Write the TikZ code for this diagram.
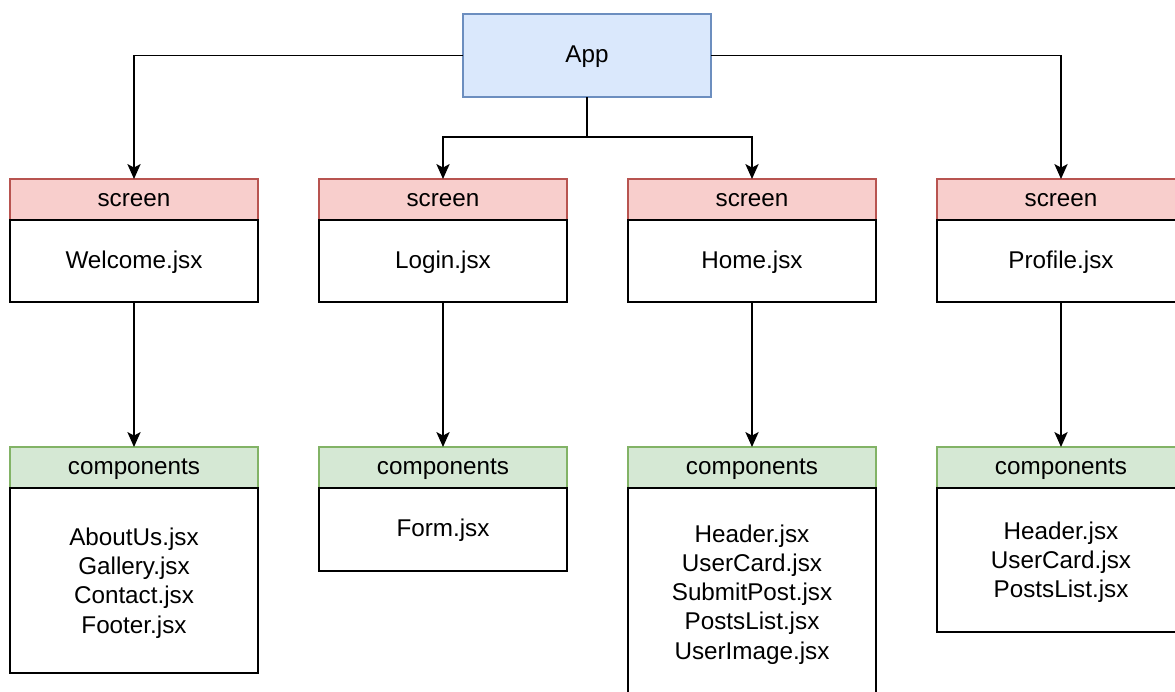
\documentclass[tikz,border=0pt]{standalone}
\usepackage{fontspec}
\setmainfont{Liberation Sans}
\usetikzlibrary{arrows.meta}

\definecolor{appfill}{HTML}{DAE8FC}
\definecolor{appline}{HTML}{6C8EBF}
\definecolor{scrfill}{HTML}{F8CECC}
\definecolor{scrline}{HTML}{B85450}
\definecolor{cmpfill}{HTML}{D5E8D4}
\definecolor{cmpline}{HTML}{82B366}

\tikzset{
  every node/.style={font=\fontsize{13.8}{16.6}\selectfont, outer sep=0pt, inner sep=0pt, text depth=0pt},
  oneline/.style={text height=0.84em},
  appbox/.style={oneline, draw=appline, fill=appfill, line width=1pt, minimum width=4.96cm, minimum height=1.66cm},
  scrhead/.style={oneline, draw=scrline, fill=scrfill, line width=1pt, minimum width=4.96cm, minimum height=0.82cm},
  cmphead/.style={oneline, draw=cmpline, fill=cmpfill, line width=1pt, minimum width=4.96cm, minimum height=0.82cm},
  filebox/.style={draw=black, fill=white, line width=1pt, minimum width=4.96cm, align=center},
  arr/.style={-{Stealth[length=8.5pt,width=7.5pt,inset=2pt]}, line width=1.1pt}
}

\begin{document}
\begin{tikzpicture}[x=0.02cm,y=-0.02cm]
    \useasboundingbox (0,0) rectangle (1175,691);

    \node[appbox] (app) at (587,55.5) {App};

    % screens
    \node[scrhead] (welH) at (134,199.5) {screen};
    \node[scrhead] (logH) at (443,199.5) {screen};
    \node[scrhead] (homH) at (752,199.5) {screen};
    \node[scrhead] (proH) at (1061,199.5) {screen};
    \node[filebox, oneline, minimum height=1.64cm] (welB) at (134,261) {Welcome.jsx};
    \node[filebox, oneline, minimum height=1.64cm] (logB) at (443,261) {Login.jsx};
    \node[filebox, oneline, minimum height=1.64cm] (homB) at (752,261) {Home.jsx};
    \node[filebox, oneline, minimum height=1.64cm] (proB) at (1061,261) {Profile.jsx};

    % components
    \node[cmphead] (welC) at (134,467.5) {components};
    \node[cmphead] (logC) at (443,467.5) {components};
    \node[cmphead] (homC) at (752,467.5) {components};
    \node[cmphead] (proC) at (1061,467.5) {components};
    \node[filebox, minimum height=3.70cm] (welF) at (134,580.5) {AboutUs.jsx\\Gallery.jsx\\Contact.jsx\\Footer.jsx};
    \node[filebox, oneline, minimum height=1.66cm] (logF) at (443,529.5) {Form.jsx};
    \node[filebox, minimum height=4.16cm] (homF) at (752,592) {Header.jsx\\UserCard.jsx\\SubmitPost.jsx\\PostsList.jsx\\UserImage.jsx};
    \node[filebox, minimum height=2.88cm] (proF) at (1061,560) {Header.jsx\\UserCard.jsx\\PostsList.jsx};

    % arrows
    \coordinate (split) at (587,137);
    \draw[arr] (app.west) -| (welH.north);
    \draw[arr] (app.east) -| (proH.north);
    \draw[line width=1.1pt] (app.south) -- (split);
    \draw[arr] (split) -| (logH.north);
    \draw[arr] (split) -| (homH.north);
    \draw[arr] (welB.south) -- (welC.north);
    \draw[arr] (logB.south) -- (logC.north);
    \draw[arr] (homB.south) -- (homC.north);
    \draw[arr] (proB.south) -- (proC.north);
\end{tikzpicture}
\end{document}
